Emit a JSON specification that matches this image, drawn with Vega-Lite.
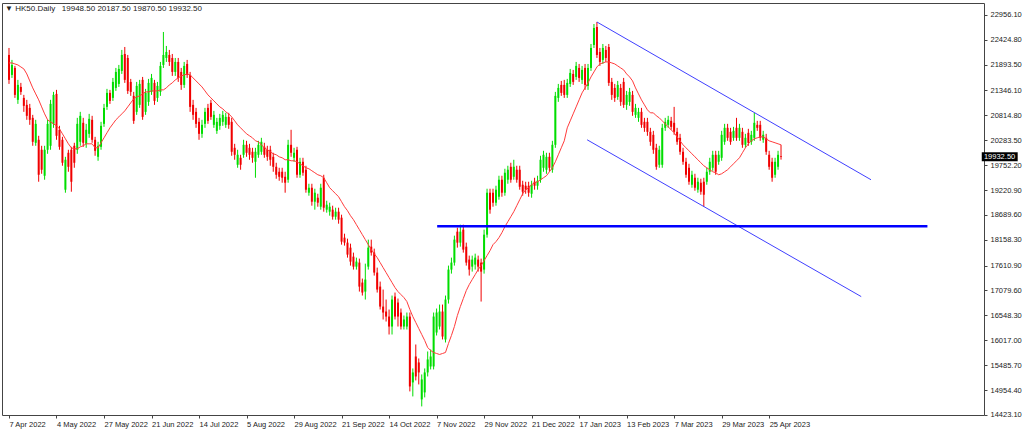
{
  "$schema": "https://vega.github.io/schema/vega-lite/v6.json",
  "width": 982,
  "height": 412,
  "autosize": {"type": "none"},
  "padding": {"left": 2, "top": 3, "right": 40, "bottom": 17},
  "background": "white",
  "title": {
    "text": "▼ HK50.Daily\u00a0\u00a0 19948.50 20187.50 19870.50 19932.50",
    "anchor": "start",
    "offset": -10,
    "dx": 3,
    "fontSize": 8,
    "font": "Liberation Sans",
    "fontWeight": "normal",
    "color": "#222"
  },
  "datasets": {
    "bars": [
      {"i":0,"o":22104,"h":22253,"l":21486,"c":21572,"ma":21934},
      {"i":1,"o":21678,"h":21998,"l":21614,"c":21891,"ma":21934},
      {"i":2,"o":21827,"h":21870,"l":21188,"c":21252,"ma":21912},
      {"i":3,"o":21146,"h":21572,"l":21060,"c":21465,"ma":21891},
      {"i":4,"o":21422,"h":21508,"l":21252,"c":21316,"ma":21848},
      {"i":5,"o":21188,"h":21252,"l":20890,"c":21018,"ma":21806},
      {"i":6,"o":21039,"h":21146,"l":20720,"c":20805,"ma":21699},
      {"i":7,"o":20975,"h":21060,"l":20613,"c":20720,"ma":21550},
      {"i":8,"o":20762,"h":20826,"l":20166,"c":20251,"ma":21401},
      {"i":9,"o":20230,"h":20720,"l":20166,"c":20634,"ma":21273},
      {"i":10,"o":20294,"h":20379,"l":19399,"c":19548,"ma":21146},
      {"i":11,"o":20081,"h":20166,"l":19569,"c":19655,"ma":20996},
      {"i":12,"o":19527,"h":20166,"l":19442,"c":20081,"ma":20847},
      {"i":13,"o":20081,"h":20720,"l":19995,"c":20634,"ma":20720},
      {"i":14,"o":20166,"h":21146,"l":20081,"c":21060,"ma":20677},
      {"i":15,"o":20634,"h":21316,"l":20549,"c":21252,"ma":20634},
      {"i":16,"o":21273,"h":21359,"l":20294,"c":20379,"ma":20592},
      {"i":17,"o":20507,"h":20592,"l":20081,"c":20144,"ma":20528},
      {"i":18,"o":20294,"h":20357,"l":19740,"c":19804,"ma":20421},
      {"i":19,"o":19229,"h":19931,"l":19165,"c":19868,"ma":20315},
      {"i":20,"o":20017,"h":20081,"l":19612,"c":19718,"ma":20208},
      {"i":21,"o":20081,"h":20144,"l":19186,"c":19399,"ma":20123},
      {"i":22,"o":20166,"h":20230,"l":19697,"c":19804,"ma":20102},
      {"i":23,"o":20081,"h":20762,"l":19995,"c":20634,"ma":20102},
      {"i":24,"o":20251,"h":20890,"l":20166,"c":20805,"ma":20144},
      {"i":25,"o":20656,"h":20762,"l":20144,"c":20230,"ma":20166},
      {"i":26,"o":20208,"h":20634,"l":20123,"c":20507,"ma":20208},
      {"i":27,"o":20421,"h":20847,"l":20336,"c":20741,"ma":20208},
      {"i":28,"o":20720,"h":20805,"l":20230,"c":20294,"ma":20208},
      {"i":29,"o":20294,"h":20357,"l":19953,"c":20059,"ma":20123},
      {"i":30,"o":19931,"h":20251,"l":19846,"c":20166,"ma":20123},
      {"i":31,"o":20144,"h":20677,"l":20081,"c":20592,"ma":20230},
      {"i":32,"o":20634,"h":21060,"l":20570,"c":20975,"ma":20336},
      {"i":33,"o":20996,"h":21380,"l":20933,"c":21295,"ma":20443},
      {"i":34,"o":21295,"h":21359,"l":21060,"c":21124,"ma":20549},
      {"i":35,"o":21188,"h":21614,"l":21124,"c":21529,"ma":20634},
      {"i":36,"o":21401,"h":21827,"l":21337,"c":21742,"ma":20720},
      {"i":37,"o":21486,"h":21891,"l":21422,"c":21806,"ma":20783},
      {"i":38,"o":21763,"h":22211,"l":21699,"c":22104,"ma":20847},
      {"i":39,"o":22125,"h":22274,"l":21508,"c":21572,"ma":20911},
      {"i":40,"o":22040,"h":22104,"l":21273,"c":21337,"ma":20996},
      {"i":41,"o":21529,"h":21593,"l":21231,"c":21316,"ma":21082},
      {"i":42,"o":21231,"h":21316,"l":20634,"c":20698,"ma":21167},
      {"i":43,"o":20890,"h":21529,"l":20826,"c":21444,"ma":21209},
      {"i":44,"o":21039,"h":21572,"l":20975,"c":21486,"ma":21231},
      {"i":45,"o":21572,"h":21635,"l":20720,"c":20783,"ma":21273},
      {"i":46,"o":20890,"h":21380,"l":20826,"c":21295,"ma":21316},
      {"i":47,"o":21103,"h":21593,"l":21018,"c":21508,"ma":21316},
      {"i":48,"o":21316,"h":21699,"l":21252,"c":21614,"ma":21337},
      {"i":49,"o":21508,"h":21572,"l":21039,"c":21124,"ma":21337},
      {"i":50,"o":21188,"h":21529,"l":21103,"c":21444,"ma":21337},
      {"i":51,"o":21316,"h":21955,"l":21231,"c":21870,"ma":21359},
      {"i":52,"o":21891,"h":22594,"l":21827,"c":22104,"ma":21359},
      {"i":53,"o":22040,"h":22296,"l":21955,"c":22168,"ma":21401},
      {"i":54,"o":22104,"h":22211,"l":21870,"c":21955,"ma":21465},
      {"i":55,"o":22040,"h":22125,"l":21657,"c":21742,"ma":21508},
      {"i":56,"o":21742,"h":22040,"l":21657,"c":21955,"ma":21572},
      {"i":57,"o":21955,"h":22040,"l":21529,"c":21614,"ma":21614},
      {"i":58,"o":21742,"h":21827,"l":21359,"c":21465,"ma":21657},
      {"i":59,"o":21465,"h":21955,"l":21401,"c":21870,"ma":21678},
      {"i":60,"o":21912,"h":21998,"l":21614,"c":21678,"ma":21699},
      {"i":61,"o":21678,"h":21742,"l":20890,"c":20996,"ma":21678},
      {"i":62,"o":21039,"h":21146,"l":20720,"c":20826,"ma":21614},
      {"i":63,"o":20890,"h":20975,"l":20549,"c":20634,"ma":21550},
      {"i":64,"o":20677,"h":20762,"l":20294,"c":20421,"ma":21486},
      {"i":65,"o":20421,"h":20720,"l":20336,"c":20613,"ma":21422},
      {"i":66,"o":20634,"h":20975,"l":20549,"c":20890,"ma":21337},
      {"i":67,"o":20975,"h":21060,"l":20634,"c":20698,"ma":21252},
      {"i":68,"o":21082,"h":21146,"l":20720,"c":20783,"ma":21188},
      {"i":69,"o":20613,"h":20911,"l":20549,"c":20826,"ma":21124},
      {"i":70,"o":20485,"h":20762,"l":20421,"c":20677,"ma":21060},
      {"i":71,"o":20592,"h":20847,"l":20507,"c":20762,"ma":20996},
      {"i":72,"o":20677,"h":20911,"l":20592,"c":20826,"ma":20954},
      {"i":73,"o":20613,"h":20869,"l":20549,"c":20783,"ma":20890},
      {"i":74,"o":20783,"h":20869,"l":20528,"c":20613,"ma":20847},
      {"i":75,"o":20677,"h":20762,"l":19953,"c":20038,"ma":20783},
      {"i":76,"o":20123,"h":20208,"l":19868,"c":19974,"ma":20698},
      {"i":77,"o":19761,"h":20081,"l":19697,"c":19974,"ma":20613},
      {"i":78,"o":19910,"h":19974,"l":19655,"c":19761,"ma":20549},
      {"i":79,"o":19974,"h":20294,"l":19910,"c":20187,"ma":20485},
      {"i":80,"o":20187,"h":20272,"l":19931,"c":20017,"ma":20421},
      {"i":81,"o":20123,"h":20208,"l":19868,"c":19974,"ma":20379},
      {"i":82,"o":20038,"h":20123,"l":19804,"c":19910,"ma":20336},
      {"i":83,"o":19825,"h":20123,"l":19484,"c":20038,"ma":20272},
      {"i":84,"o":19974,"h":20272,"l":19910,"c":20187,"ma":20251},
      {"i":85,"o":20038,"h":20336,"l":19974,"c":20251,"ma":20187},
      {"i":86,"o":20144,"h":20230,"l":19910,"c":19974,"ma":20123},
      {"i":87,"o":20081,"h":20166,"l":19846,"c":19931,"ma":20081},
      {"i":88,"o":20081,"h":20166,"l":19740,"c":19868,"ma":20038},
      {"i":89,"o":19931,"h":20017,"l":19612,"c":19718,"ma":19995},
      {"i":90,"o":19718,"h":19804,"l":19463,"c":19548,"ma":19974},
      {"i":91,"o":19612,"h":19697,"l":19420,"c":19505,"ma":19931},
      {"i":92,"o":19612,"h":19697,"l":19378,"c":19484,"ma":19910},
      {"i":93,"o":19505,"h":19612,"l":19165,"c":19378,"ma":19868},
      {"i":94,"o":19442,"h":20294,"l":19378,"c":20187,"ma":19868},
      {"i":95,"o":20187,"h":20507,"l":19931,"c":20017,"ma":19846},
      {"i":96,"o":19910,"h":20123,"l":19825,"c":20017,"ma":19846},
      {"i":97,"o":20081,"h":20144,"l":19484,"c":19548,"ma":19825},
      {"i":98,"o":19548,"h":19910,"l":19484,"c":19825,"ma":19782},
      {"i":99,"o":19825,"h":19910,"l":19527,"c":19591,"ma":19740},
      {"i":100,"o":19655,"h":19740,"l":19165,"c":19229,"ma":19697},
      {"i":101,"o":19165,"h":19356,"l":19101,"c":19271,"ma":19676},
      {"i":102,"o":19271,"h":19356,"l":18888,"c":18973,"ma":19633},
      {"i":103,"o":18973,"h":19250,"l":18803,"c":19165,"ma":19591},
      {"i":104,"o":19058,"h":19143,"l":18866,"c":18952,"ma":19548},
      {"i":105,"o":18866,"h":19356,"l":18803,"c":19271,"ma":19527},
      {"i":106,"o":19484,"h":19548,"l":18760,"c":18845,"ma":19484},
      {"i":107,"o":18803,"h":18994,"l":18739,"c":18909,"ma":19378},
      {"i":108,"o":18760,"h":18952,"l":18675,"c":18866,"ma":19271},
      {"i":109,"o":18803,"h":18888,"l":18590,"c":18653,"ma":19207},
      {"i":110,"o":18653,"h":18845,"l":18590,"c":18760,"ma":19143},
      {"i":111,"o":18760,"h":18845,"l":18504,"c":18590,"ma":19079},
      {"i":112,"o":18632,"h":18696,"l":18057,"c":18121,"ma":18973},
      {"i":113,"o":18206,"h":18291,"l":18036,"c":18100,"ma":18866},
      {"i":114,"o":18100,"h":18185,"l":17780,"c":17844,"ma":18781},
      {"i":115,"o":17993,"h":18078,"l":17610,"c":17695,"ma":18675},
      {"i":116,"o":17801,"h":17887,"l":17525,"c":17588,"ma":18590},
      {"i":117,"o":17588,"h":17780,"l":17525,"c":17695,"ma":18483},
      {"i":118,"o":17674,"h":17759,"l":17056,"c":17162,"ma":18377},
      {"i":119,"o":17248,"h":17333,"l":16971,"c":17035,"ma":18270},
      {"i":120,"o":17056,"h":17652,"l":16886,"c":17312,"ma":18164},
      {"i":121,"o":17588,"h":18164,"l":17525,"c":17993,"ma":18057},
      {"i":122,"o":18014,"h":18164,"l":17823,"c":17887,"ma":17951},
      {"i":123,"o":17887,"h":17972,"l":17397,"c":17461,"ma":17865},
      {"i":124,"o":17461,"h":17567,"l":17035,"c":17099,"ma":17780},
      {"i":125,"o":17162,"h":17269,"l":16673,"c":16736,"ma":17674},
      {"i":126,"o":16736,"h":17099,"l":16460,"c":16609,"ma":17567},
      {"i":127,"o":16630,"h":16886,"l":16417,"c":16523,"ma":17461},
      {"i":128,"o":16523,"h":16673,"l":16140,"c":16310,"ma":17354},
      {"i":129,"o":16310,"h":16971,"l":16140,"c":16886,"ma":17248},
      {"i":130,"o":16949,"h":17035,"l":16460,"c":16523,"ma":17141},
      {"i":131,"o":16822,"h":16907,"l":16310,"c":16523,"ma":17056},
      {"i":132,"o":16609,"h":16694,"l":16247,"c":16310,"ma":16992},
      {"i":133,"o":16310,"h":16545,"l":16247,"c":16460,"ma":16928},
      {"i":134,"o":16310,"h":16609,"l":16247,"c":16523,"ma":16843},
      {"i":135,"o":16523,"h":16609,"l":14926,"c":15032,"ma":16673},
      {"i":136,"o":15118,"h":15416,"l":14819,"c":15331,"ma":16523},
      {"i":137,"o":15671,"h":15927,"l":15160,"c":15245,"ma":16396},
      {"i":138,"o":15544,"h":15629,"l":15075,"c":15331,"ma":16268},
      {"i":139,"o":14756,"h":15288,"l":14606,"c":15182,"ma":16140},
      {"i":140,"o":14905,"h":15416,"l":14798,"c":15331,"ma":16012},
      {"i":141,"o":15331,"h":15778,"l":15245,"c":15608,"ma":15863},
      {"i":142,"o":15458,"h":15821,"l":15395,"c":15671,"ma":15799},
      {"i":143,"o":15458,"h":16609,"l":15395,"c":16523,"ma":15757},
      {"i":144,"o":16183,"h":16694,"l":16119,"c":16609,"ma":15735},
      {"i":145,"o":16310,"h":16779,"l":16247,"c":16630,"ma":15714},
      {"i":146,"o":16630,"h":16779,"l":16034,"c":16097,"ma":15735},
      {"i":147,"o":16034,"h":16971,"l":15970,"c":16886,"ma":15757},
      {"i":148,"o":16886,"h":17610,"l":16800,"c":17525,"ma":15948},
      {"i":149,"o":17525,"h":17780,"l":17439,"c":17674,"ma":16119},
      {"i":150,"o":17674,"h":18249,"l":17610,"c":18164,"ma":16310},
      {"i":151,"o":18334,"h":18419,"l":17993,"c":18100,"ma":16545},
      {"i":152,"o":18100,"h":18483,"l":18014,"c":18334,"ma":16736},
      {"i":153,"o":18377,"h":18483,"l":17887,"c":17951,"ma":16907},
      {"i":154,"o":18014,"h":18100,"l":17610,"c":17674,"ma":17077},
      {"i":155,"o":17738,"h":17823,"l":17397,"c":17525,"ma":17205},
      {"i":156,"o":17588,"h":17823,"l":17482,"c":17738,"ma":17312},
      {"i":157,"o":17631,"h":17865,"l":17525,"c":17780,"ma":17418},
      {"i":158,"o":17738,"h":17823,"l":17482,"c":17588,"ma":17525},
      {"i":159,"o":17674,"h":17759,"l":16843,"c":17482,"ma":17610},
      {"i":160,"o":17525,"h":18377,"l":17439,"c":18270,"ma":17716},
      {"i":161,"o":18270,"h":19250,"l":18206,"c":19165,"ma":17823},
      {"i":162,"o":19165,"h":19250,"l":18717,"c":18803,"ma":17929},
      {"i":163,"o":19165,"h":19250,"l":18866,"c":18952,"ma":18057},
      {"i":164,"o":18952,"h":19314,"l":18888,"c":19229,"ma":18121},
      {"i":165,"o":19079,"h":19527,"l":19016,"c":19442,"ma":18206},
      {"i":166,"o":19442,"h":19527,"l":19079,"c":19165,"ma":18313},
      {"i":167,"o":19165,"h":19676,"l":19101,"c":19591,"ma":18440},
      {"i":168,"o":19442,"h":19740,"l":19356,"c":19655,"ma":18547},
      {"i":169,"o":19718,"h":19804,"l":19378,"c":19442,"ma":18653},
      {"i":170,"o":19505,"h":19868,"l":19442,"c":19718,"ma":18760},
      {"i":171,"o":19655,"h":19740,"l":19378,"c":19442,"ma":18888},
      {"i":172,"o":19655,"h":19740,"l":19229,"c":19292,"ma":19016},
      {"i":173,"o":19335,"h":19420,"l":19101,"c":19186,"ma":19143},
      {"i":174,"o":19314,"h":19399,"l":19143,"c":19229,"ma":19229},
      {"i":175,"o":19314,"h":19399,"l":19079,"c":19165,"ma":19271},
      {"i":176,"o":19143,"h":19420,"l":19058,"c":19335,"ma":19335},
      {"i":177,"o":19399,"h":19484,"l":19229,"c":19314,"ma":19378},
      {"i":178,"o":19314,"h":19527,"l":19229,"c":19420,"ma":19399},
      {"i":179,"o":19442,"h":19953,"l":19378,"c":19868,"ma":19442},
      {"i":180,"o":19697,"h":20059,"l":19612,"c":19974,"ma":19484},
      {"i":181,"o":19655,"h":20017,"l":19569,"c":19931,"ma":19527},
      {"i":182,"o":19931,"h":20017,"l":19612,"c":19697,"ma":19612},
      {"i":183,"o":19655,"h":20272,"l":19591,"c":20187,"ma":19697},
      {"i":184,"o":20187,"h":21316,"l":20123,"c":21231,"ma":19825},
      {"i":185,"o":21188,"h":21486,"l":21103,"c":21401,"ma":19974},
      {"i":186,"o":21465,"h":21550,"l":21231,"c":21295,"ma":20123},
      {"i":187,"o":21465,"h":21572,"l":21188,"c":21252,"ma":20272},
      {"i":188,"o":21252,"h":21593,"l":21188,"c":21508,"ma":20549},
      {"i":189,"o":21486,"h":21806,"l":21422,"c":21721,"ma":20698},
      {"i":190,"o":21699,"h":21785,"l":21465,"c":21529,"ma":20847},
      {"i":191,"o":21635,"h":21955,"l":21572,"c":21870,"ma":20996},
      {"i":192,"o":21827,"h":21912,"l":21529,"c":21614,"ma":21146},
      {"i":193,"o":21572,"h":21870,"l":21486,"c":21785,"ma":21295},
      {"i":194,"o":21827,"h":21912,"l":21359,"c":21465,"ma":21401},
      {"i":195,"o":21444,"h":21912,"l":21359,"c":21827,"ma":21508},
      {"i":196,"o":21827,"h":22338,"l":21763,"c":22253,"ma":21635},
      {"i":197,"o":22317,"h":22764,"l":22253,"c":22679,"ma":21742},
      {"i":198,"o":22700,"h":22807,"l":22040,"c":22104,"ma":21848},
      {"i":199,"o":22168,"h":22253,"l":21870,"c":21955,"ma":21912},
      {"i":200,"o":21998,"h":22338,"l":21912,"c":22253,"ma":21934},
      {"i":201,"o":22211,"h":22296,"l":21955,"c":22040,"ma":21955},
      {"i":202,"o":22274,"h":22338,"l":21444,"c":21508,"ma":21955},
      {"i":203,"o":21529,"h":21614,"l":21146,"c":21252,"ma":21934},
      {"i":204,"o":21401,"h":21486,"l":21103,"c":21188,"ma":21912},
      {"i":205,"o":21209,"h":21550,"l":21146,"c":21465,"ma":21870},
      {"i":206,"o":21401,"h":21486,"l":21018,"c":21103,"ma":21827},
      {"i":207,"o":21529,"h":21614,"l":20975,"c":21039,"ma":21785},
      {"i":208,"o":21039,"h":21337,"l":20933,"c":21252,"ma":21699},
      {"i":209,"o":21103,"h":21401,"l":21018,"c":21316,"ma":21635},
      {"i":210,"o":21252,"h":21337,"l":20805,"c":20890,"ma":21550},
      {"i":211,"o":20826,"h":21060,"l":20762,"c":20975,"ma":21401},
      {"i":212,"o":20762,"h":20975,"l":20677,"c":20890,"ma":21273},
      {"i":213,"o":20890,"h":20975,"l":20549,"c":20613,"ma":21146},
      {"i":214,"o":20677,"h":20762,"l":20464,"c":20549,"ma":21039},
      {"i":215,"o":20677,"h":20762,"l":20379,"c":20464,"ma":20933},
      {"i":216,"o":20464,"h":20549,"l":20166,"c":20251,"ma":20869},
      {"i":217,"o":20400,"h":20485,"l":19995,"c":20081,"ma":20869},
      {"i":218,"o":20123,"h":20208,"l":19655,"c":19718,"ma":20805},
      {"i":219,"o":19761,"h":20166,"l":19697,"c":20081,"ma":20762},
      {"i":220,"o":19761,"h":20634,"l":19697,"c":20549,"ma":20698},
      {"i":221,"o":20549,"h":20762,"l":20485,"c":20677,"ma":20634},
      {"i":222,"o":20613,"h":20805,"l":20549,"c":20720,"ma":20570},
      {"i":223,"o":20698,"h":20783,"l":20507,"c":20570,"ma":20507},
      {"i":224,"o":20656,"h":20996,"l":20400,"c":20464,"ma":20443},
      {"i":225,"o":20464,"h":20549,"l":20187,"c":20251,"ma":20357},
      {"i":226,"o":20336,"h":20421,"l":19974,"c":20038,"ma":20272},
      {"i":227,"o":20038,"h":20123,"l":19761,"c":19825,"ma":20187},
      {"i":228,"o":19825,"h":19910,"l":19484,"c":19548,"ma":20123},
      {"i":229,"o":19697,"h":19782,"l":19335,"c":19399,"ma":20059},
      {"i":230,"o":19335,"h":19633,"l":19271,"c":19548,"ma":19995},
      {"i":231,"o":19484,"h":19569,"l":19207,"c":19271,"ma":19931},
      {"i":232,"o":19229,"h":19484,"l":19165,"c":19399,"ma":19868},
      {"i":233,"o":19378,"h":19463,"l":19122,"c":19186,"ma":19804},
      {"i":234,"o":19399,"h":19484,"l":18866,"c":19122,"ma":19740},
      {"i":235,"o":19399,"h":19697,"l":19335,"c":19612,"ma":19697},
      {"i":236,"o":19612,"h":19910,"l":19548,"c":19825,"ma":19655},
      {"i":237,"o":19697,"h":20059,"l":19633,"c":19974,"ma":19612},
      {"i":238,"o":19974,"h":20059,"l":19548,"c":19612,"ma":19591},
      {"i":239,"o":19825,"h":20059,"l":19761,"c":19974,"ma":19548},
      {"i":240,"o":19910,"h":20485,"l":19846,"c":20400,"ma":19569},
      {"i":241,"o":20251,"h":20634,"l":20187,"c":20549,"ma":19612},
      {"i":242,"o":20549,"h":20634,"l":20272,"c":20336,"ma":19655},
      {"i":243,"o":20464,"h":20549,"l":20187,"c":20251,"ma":19718},
      {"i":244,"o":20336,"h":20570,"l":20272,"c":20485,"ma":19782},
      {"i":245,"o":20549,"h":20762,"l":20272,"c":20336,"ma":19846},
      {"i":246,"o":20336,"h":20634,"l":20272,"c":20549,"ma":19910},
      {"i":247,"o":20464,"h":20549,"l":20123,"c":20187,"ma":20017},
      {"i":248,"o":20187,"h":20421,"l":20123,"c":20336,"ma":20123},
      {"i":249,"o":20443,"h":20528,"l":20166,"c":20230,"ma":20208},
      {"i":250,"o":20251,"h":20485,"l":20187,"c":20400,"ma":20272},
      {"i":251,"o":20336,"h":20869,"l":20272,"c":20656,"ma":20315},
      {"i":252,"o":20613,"h":20698,"l":20485,"c":20549,"ma":20336},
      {"i":253,"o":20613,"h":20698,"l":20272,"c":20336,"ma":20357},
      {"i":254,"o":20294,"h":20485,"l":20230,"c":20400,"ma":20357},
      {"i":255,"o":20336,"h":20421,"l":19974,"c":20038,"ma":20315},
      {"i":256,"o":19974,"h":20059,"l":19655,"c":19718,"ma":20272},
      {"i":257,"o":19825,"h":19910,"l":19399,"c":19484,"ma":20251},
      {"i":258,"o":19548,"h":19910,"l":19484,"c":19825,"ma":20230},
      {"i":259,"o":19718,"h":20059,"l":19655,"c":19974,"ma":20208},
      {"i":260,"o":19948.5,"h":20187.5,"l":19870.5,"c":19932.5,"ma":20187}
    ],
    "lines": [
      {"line": "upper", "i": 198, "p": 22807},
      {"line": "upper", "i": 290.3, "p": 19442},
      {"line": "lower", "i": 194.7, "p": 20294},
      {"line": "lower", "i": 287, "p": 16949},
      {"line": "support", "i": 144.2, "p": 18450},
      {"line": "support", "i": 309.3, "p": 18450}
    ]
  },
  "layer": [
    {
      "data": {"name": "bars"},
      "mark": {"type": "rule", "strokeWidth": 1},
      "encoding": {
        "x": {
          "field": "i",
          "type": "quantitative",
          "scale": {"domain": [-0.67, 326.67], "nice": false, "zero": false},
          "axis": {
            "orient": "bottom",
            "values": [0, 16, 32, 48, 64, 80, 96, 112, 128, 144, 160, 176, 192, 208, 224, 240, 256],
            "labelExpr": "['7 Apr 2022','4 May 2022','27 May 2022','21 Jun 2022','14 Jul 2022','5 Aug 2022','29 Aug 2022','21 Sep 2022','14 Oct 2022','7 Nov 2022','29 Nov 2022','21 Dec 2022','17 Jan 2023','13 Feb 2023','7 Mar 2023','29 Mar 2023','25 Apr 2023'][round(datum.value / 16)]",
            "labelAlign": "left",
            "labelPadding": 2,
            "tickSize": 3,
            "labelOverlap": false,
            "labelBound": false,
            "labelFlush": false,
            "title": null
          }
        },
        "y": {
          "field": "l",
          "type": "quantitative",
          "scale": {"domain": [14423, 23212], "nice": false, "zero": false},
          "axis": {
            "orient": "right",
            "values": [22956.1, 22424.8, 21893.5, 21346.1, 20814.8, 20283.5, 19752.2, 19220.9, 18689.6, 18158.3, 17610.9, 17079.6, 16548.3, 16017.0, 15485.7, 14954.4, 14423.1],
            "format": ".2f",
            "tickSize": 3,
            "labelPadding": 3,
            "labelOverlap": false,
            "labelBound": false,
            "labelFlush": false,
            "title": null
          }
        },
        "y2": {"field": "h"},
        "color": {"condition": {"test": "datum.c >= datum.o", "value": "#00dd00"}, "value": "#f00000"}
      }
    },
    {
      "data": {"name": "bars"},
      "mark": {"type": "bar", "width": 2},
      "encoding": {
        "x": {
          "field": "i",
          "type": "quantitative",
          "axis": {
            "orient": "bottom",
            "values": [0, 16, 32, 48, 64, 80, 96, 112, 128, 144, 160, 176, 192, 208, 224, 240, 256],
            "labelExpr": "['7 Apr 2022','4 May 2022','27 May 2022','21 Jun 2022','14 Jul 2022','5 Aug 2022','29 Aug 2022','21 Sep 2022','14 Oct 2022','7 Nov 2022','29 Nov 2022','21 Dec 2022','17 Jan 2023','13 Feb 2023','7 Mar 2023','29 Mar 2023','25 Apr 2023'][round(datum.value / 16)]",
            "labelAlign": "left",
            "labelPadding": 2,
            "tickSize": 3,
            "labelOverlap": false,
            "labelBound": false,
            "labelFlush": false,
            "title": null
          }
        },
        "y": {
          "field": "o",
          "type": "quantitative",
          "axis": {
            "orient": "right",
            "values": [22956.1, 22424.8, 21893.5, 21346.1, 20814.8, 20283.5, 19752.2, 19220.9, 18689.6, 18158.3, 17610.9, 17079.6, 16548.3, 16017.0, 15485.7, 14954.4, 14423.1],
            "format": ".2f",
            "tickSize": 3,
            "labelPadding": 3,
            "labelOverlap": false,
            "labelBound": false,
            "labelFlush": false,
            "title": null
          }
        },
        "y2": {"field": "c"},
        "color": {"condition": {"test": "datum.c >= datum.o", "value": "#00dd00"}, "value": "#f00000"}
      }
    },
    {
      "data": {"name": "bars"},
      "mark": {"type": "line", "color": "#ff3b3b", "strokeWidth": 1},
      "encoding": {
        "x": {
          "field": "i",
          "type": "quantitative",
          "axis": {
            "orient": "bottom",
            "values": [0, 16, 32, 48, 64, 80, 96, 112, 128, 144, 160, 176, 192, 208, 224, 240, 256],
            "labelExpr": "['7 Apr 2022','4 May 2022','27 May 2022','21 Jun 2022','14 Jul 2022','5 Aug 2022','29 Aug 2022','21 Sep 2022','14 Oct 2022','7 Nov 2022','29 Nov 2022','21 Dec 2022','17 Jan 2023','13 Feb 2023','7 Mar 2023','29 Mar 2023','25 Apr 2023'][round(datum.value / 16)]",
            "labelAlign": "left",
            "labelPadding": 2,
            "tickSize": 3,
            "labelOverlap": false,
            "labelBound": false,
            "labelFlush": false,
            "title": null
          }
        },
        "y": {
          "field": "ma",
          "type": "quantitative",
          "axis": {
            "orient": "right",
            "values": [22956.1, 22424.8, 21893.5, 21346.1, 20814.8, 20283.5, 19752.2, 19220.9, 18689.6, 18158.3, 17610.9, 17079.6, 16548.3, 16017.0, 15485.7, 14954.4, 14423.1],
            "format": ".2f",
            "tickSize": 3,
            "labelPadding": 3,
            "labelOverlap": false,
            "labelBound": false,
            "labelFlush": false,
            "title": null
          }
        }
      }
    },
    {
      "data": {"name": "lines"},
      "transform": [{"filter": "datum.line != 'support'"}],
      "mark": {"type": "line", "color": "#4040ff", "strokeWidth": 1},
      "encoding": {
        "x": {
          "field": "i",
          "type": "quantitative",
          "axis": {
            "orient": "bottom",
            "values": [0, 16, 32, 48, 64, 80, 96, 112, 128, 144, 160, 176, 192, 208, 224, 240, 256],
            "labelExpr": "['7 Apr 2022','4 May 2022','27 May 2022','21 Jun 2022','14 Jul 2022','5 Aug 2022','29 Aug 2022','21 Sep 2022','14 Oct 2022','7 Nov 2022','29 Nov 2022','21 Dec 2022','17 Jan 2023','13 Feb 2023','7 Mar 2023','29 Mar 2023','25 Apr 2023'][round(datum.value / 16)]",
            "labelAlign": "left",
            "labelPadding": 2,
            "tickSize": 3,
            "labelOverlap": false,
            "labelBound": false,
            "labelFlush": false,
            "title": null
          }
        },
        "y": {
          "field": "p",
          "type": "quantitative",
          "axis": {
            "orient": "right",
            "values": [22956.1, 22424.8, 21893.5, 21346.1, 20814.8, 20283.5, 19752.2, 19220.9, 18689.6, 18158.3, 17610.9, 17079.6, 16548.3, 16017.0, 15485.7, 14954.4, 14423.1],
            "format": ".2f",
            "tickSize": 3,
            "labelPadding": 3,
            "labelOverlap": false,
            "labelBound": false,
            "labelFlush": false,
            "title": null
          }
        },
        "detail": {"field": "line", "type": "nominal"}
      }
    },
    {
      "data": {"name": "lines"},
      "transform": [{"filter": "datum.line == 'support'"}],
      "mark": {"type": "line", "color": "#0000ff", "strokeWidth": 2.6},
      "encoding": {
        "x": {
          "field": "i",
          "type": "quantitative",
          "axis": {
            "orient": "bottom",
            "values": [0, 16, 32, 48, 64, 80, 96, 112, 128, 144, 160, 176, 192, 208, 224, 240, 256],
            "labelExpr": "['7 Apr 2022','4 May 2022','27 May 2022','21 Jun 2022','14 Jul 2022','5 Aug 2022','29 Aug 2022','21 Sep 2022','14 Oct 2022','7 Nov 2022','29 Nov 2022','21 Dec 2022','17 Jan 2023','13 Feb 2023','7 Mar 2023','29 Mar 2023','25 Apr 2023'][round(datum.value / 16)]",
            "labelAlign": "left",
            "labelPadding": 2,
            "tickSize": 3,
            "labelOverlap": false,
            "labelBound": false,
            "labelFlush": false,
            "title": null
          }
        },
        "y": {
          "field": "p",
          "type": "quantitative",
          "axis": {
            "orient": "right",
            "values": [22956.1, 22424.8, 21893.5, 21346.1, 20814.8, 20283.5, 19752.2, 19220.9, 18689.6, 18158.3, 17610.9, 17079.6, 16548.3, 16017.0, 15485.7, 14954.4, 14423.1],
            "format": ".2f",
            "tickSize": 3,
            "labelPadding": 3,
            "labelOverlap": false,
            "labelBound": false,
            "labelFlush": false,
            "title": null
          }
        }
      }
    },
    {
      "data": {"name": "bars"},
      "transform": [{"filter": "datum.i == 260"}],
      "mark": {"type": "rule", "color": "#000000", "strokeWidth": 9, "clip": false},
      "encoding": {
        "x": {"datum": 327.6, "type": "quantitative"},
        "x2": {"datum": 339.7},
        "y": {
          "field": "c",
          "type": "quantitative",
          "axis": {
            "orient": "right",
            "values": [22956.1, 22424.8, 21893.5, 21346.1, 20814.8, 20283.5, 19752.2, 19220.9, 18689.6, 18158.3, 17610.9, 17079.6, 16548.3, 16017.0, 15485.7, 14954.4, 14423.1],
            "format": ".2f",
            "tickSize": 3,
            "labelPadding": 3,
            "labelOverlap": false,
            "labelBound": false,
            "labelFlush": false,
            "title": null
          }
        }
      }
    },
    {
      "data": {"name": "bars"},
      "transform": [{"filter": "datum.i == 260"}],
      "mark": {"type": "text", "color": "#ffffff", "fontSize": 7.5, "font": "Liberation Sans", "align": "center", "baseline": "middle", "clip": false},
      "encoding": {
        "x": {"datum": 333.6, "type": "quantitative"},
        "y": {
          "field": "c",
          "type": "quantitative",
          "axis": {
            "orient": "right",
            "values": [22956.1, 22424.8, 21893.5, 21346.1, 20814.8, 20283.5, 19752.2, 19220.9, 18689.6, 18158.3, 17610.9, 17079.6, 16548.3, 16017.0, 15485.7, 14954.4, 14423.1],
            "format": ".2f",
            "tickSize": 3,
            "labelPadding": 3,
            "labelOverlap": false,
            "labelBound": false,
            "labelFlush": false,
            "title": null
          }
        },
        "text": {"field": "c", "type": "quantitative", "format": ".2f"}
      }
    }
  ],
  "config": {
    "view": {"stroke": "#444444", "strokeWidth": 1},
    "axis": {
      "domain": false,
      "grid": false,
      "labelFont": "Liberation Sans",
      "labelFontSize": 7.5,
      "labelColor": "#222222",
      "tickColor": "#444444"
    }
  }
}
